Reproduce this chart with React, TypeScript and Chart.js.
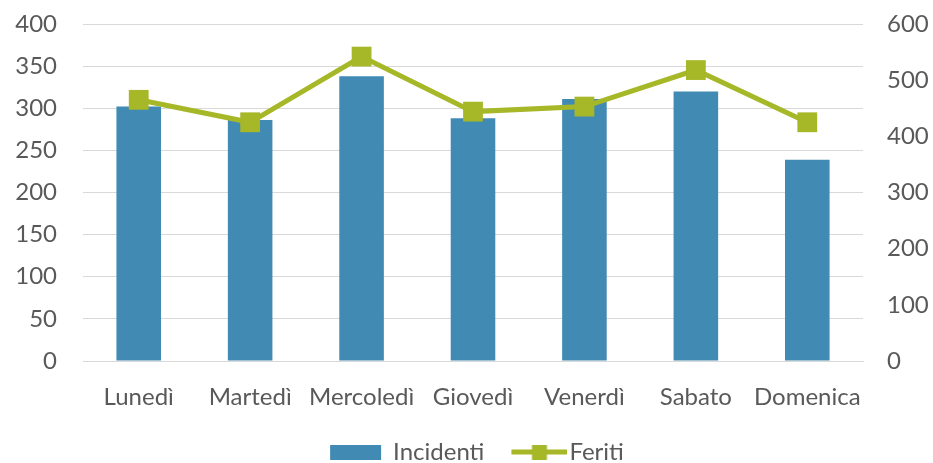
import React, { useEffect, useRef } from "react";
import { Chart, registerables } from "chart.js";

Chart.register(...registerables);

const categories = ["Lunedì", "Martedì", "Mercoledì", "Giovedì", "Venerdì", "Sabato", "Domenica"];
const incidenti = [302, 286, 338, 288, 311, 320, 239];
const feriti = [465, 425, 542, 444, 453, 518, 425];
const leftTicks = [0, 50, 100, 150, 200, 250, 300, 350, 400];
const rightTicks = [0, 100, 200, 300, 400, 500, 600];

const BLUE = "#418AB3";
const GREEN = "#A6B727";
const TEXT = "#595959";
const GRID = "#D9D9D9";
const FONT = "Lato, 'Open Sans', sans-serif";
const FS = 24;

// Legend icons: drawn right-aligned inside a wider canvas to tune the gap to the text
function makeBoxIcon(): HTMLCanvasElement {
  const c = document.createElement("canvas");
  c.width = 66;
  c.height = 15;
  const ctx = c.getContext("2d")!;
  ctx.fillStyle = BLUE;
  ctx.fillRect(10, 0, 51, 15);
  return c;
}

function makeLineIcon(): HTMLCanvasElement {
  const c = document.createElement("canvas");
  c.width = 76;
  c.height = 15;
  const ctx = c.getContext("2d")!;
  ctx.fillStyle = GREEN;
  ctx.fillRect(20, 5, 56, 5);
  ctx.fillRect(40.5, 0, 15, 15);
  return c;
}

const legendShift = {
  id: "legendShift",
  afterLayout(chart: any) {
    if (chart.legend) {
      chart.legend.left += 8;
      chart.legend.right += 8;
    }
  },
};

export default function App() {
  const ref = useRef<HTMLCanvasElement | null>(null);

  useEffect(() => {
    document.body.style.margin = "0";
    const canvas = ref.current;
    if (!canvas) return;
    const boxIcon = makeBoxIcon();
    const lineIcon = makeLineIcon();

    const chart = new Chart(canvas, {
      data: {
        labels: categories,
        datasets: [
          {
            type: "line",
            label: "Feriti",
            data: feriti,
            yAxisID: "y1",
            borderColor: GREEN,
            backgroundColor: GREEN,
            borderWidth: 5,
            pointStyle: "rect",
            pointRadius: 14,
            pointHoverRadius: 14,
            pointBorderWidth: 0,
            pointBackgroundColor: GREEN,
            order: 0,
          },
          {
            type: "bar",
            label: "Incidenti",
            data: incidenti,
            yAxisID: "y",
            backgroundColor: BLUE,
            borderWidth: 0,
            categoryPercentage: 1,
            barPercentage: 0.4,
            order: 1,
          },
        ],
      },
      plugins: [legendShift],
      options: {
        responsive: false,
        animation: false,
        maintainAspectRatio: false,
        layout: { padding: { top: 24, bottom: -11, left: 0, right: 0 } },
        plugins: {
          tooltip: { enabled: false },
          legend: {
            position: "bottom",
            labels: {
              usePointStyle: true,
              pointStyleWidth: 56,
              padding: 17,
              color: TEXT,
              font: { family: FONT, size: FS, lineHeight: 1 },
              generateLabels: () => [
                {
                  text: "Incidenti",
                  pointStyle: boxIcon as any,
                  fillStyle: BLUE,
                  strokeStyle: BLUE,
                  lineWidth: 0,
                  hidden: false,
                  datasetIndex: 1,
                  fontColor: TEXT,
                },
                {
                  text: "Feriti",
                  pointStyle: lineIcon as any,
                  fillStyle: GREEN,
                  strokeStyle: GREEN,
                  lineWidth: 0,
                  hidden: false,
                  datasetIndex: 0,
                  fontColor: TEXT,
                },
              ],
            },
          },
        },
        scales: {
          x: {
            afterFit: (s: any) => {
              s.height = 62;
            },
            grid: { display: false, drawTicks: false },
            border: { display: true, color: GRID, width: 1 },
            ticks: {
              color: TEXT,
              font: { family: FONT, size: FS },
              padding: 22,
              maxRotation: 0,
              autoSkip: false,
            },
          },
          y: {
            position: "left",
            min: 0,
            max: 400,
            afterFit: (s: any) => {
              s.width = 83;
              s.paddingTop = 0;
              s.paddingBottom = 0;
            },
            afterBuildTicks: (s: any) => {
              s.ticks = leftTicks.map((v) => ({ value: v }));
            },
            grid: { color: GRID, lineWidth: 1, drawTicks: false },
            border: { display: false },
            ticks: {
              color: TEXT,
              font: { family: FONT, size: FS },
              padding: 26,
            },
          },
          y1: {
            position: "right",
            min: 0,
            max: 600,
            afterFit: (s: any) => {
              s.width = 70;
              s.paddingTop = 0;
              s.paddingBottom = 0;
            },
            afterBuildTicks: (s: any) => {
              s.ticks = rightTicks.map((v) => ({ value: v }));
            },
            grid: { display: false, drawTicks: false },
            border: { display: false },
            ticks: {
              color: TEXT,
              font: { family: FONT, size: FS },
              padding: 24,
            },
          },
        },
      },
    } as any);

    return () => chart.destroy();
  }, []);

  return (
    <div style={{ width: 933, height: 463, position: "relative" }}>
      <canvas ref={ref} width={933} height={463} style={{ display: "block" }} />
    </div>
  );
}
